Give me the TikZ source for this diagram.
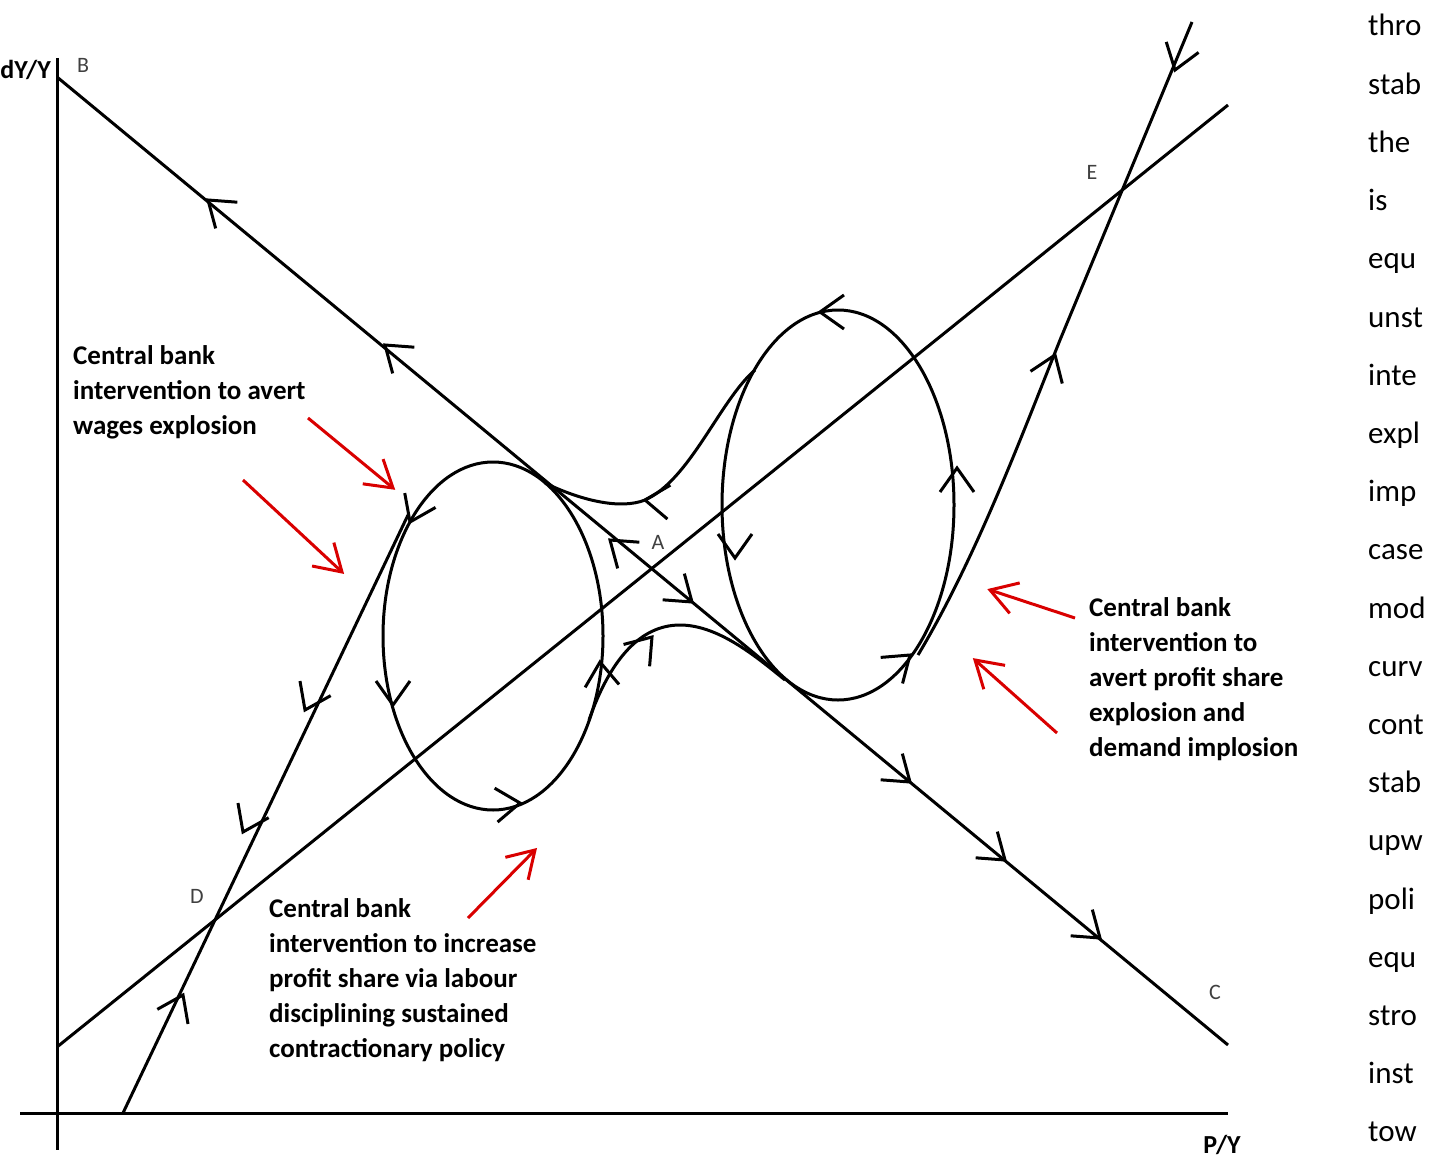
\documentclass[tikz,border=0pt]{standalone}
\usepackage{fontspec}
\setmainfont{Carlito}
\begin{document}
\begin{tikzpicture}[x=1pt,y=-1pt,
  ln/.style={line width=3pt,black},
  rd/.style={line width=3pt,red!85!black},
  lbl/.style={font=\fontsize{27}{35}\selectfont\bfseries,align=left,anchor=north west,inner sep=0pt},
  pt/.style={font=\fontsize{22}{22}\selectfont,text=black!75,inner sep=0pt},
  arrh/.pic={\draw[line width=3pt] (-24,-17)--(0,0)--(-24,17);},
  redh/.pic={\draw[line width=3pt,red!85!black] (-26,-16)--(0,0)--(-26,16);}]
\useasboundingbox (0,0) rectangle (1434,1169);
% axes
\draw[ln] (57,58) -- (57,1150);
\draw[ln] (20,1113) -- (1228,1113);
% lines
\coordinate (B) at (57,77); \coordinate (C) at (1228,1045);
\coordinate (D0) at (57,1047); \coordinate (E0) at (1228,105);
\draw[ln] (B) -- (C);
\draw[ln] (D0) -- (E0);
% ellipses
\draw[ln] (493,636) ellipse [x radius=110, y radius=174];
\draw[ln] (838,505) ellipse [x radius=116, y radius=195];
% left steep line
\coordinate (S0) at (123,1113); \coordinate (S1) at (408,515);
\draw[ln] (S0) -- (S1);
% right curve
\draw[ln] (918,655) .. controls (975,560) and (1020,440) .. (1060,340) -- (1192,22);
% connectors
\draw[ln] (545,483) .. controls (580,500) and (620,510) .. (645,500) .. controls (690,480) and (720,400) .. (755,370);
\draw[ln] (589,720) .. controls (610,660) and (640,625) .. (680,625) .. controls (720,625) and (760,660) .. (785,680);
% arrowheads
\foreach \x/\y/\a in {208/200/219.6, 385/345/219.6, 610/540/219.6, 692/602/39.6, 910/782/39.6, 1005/860/39.6, 1100/938/39.6,
  183/995/-64.5, 243/832/115.5, 305/710/115.5,
  1055/355/-69, 1175/70/108,
  410/522/115, 393/705/90, 520/803/-5, 600/662/-95,
  820/312/180, 735/558/90, 957/468/-90, 910/655/-40,
  645/500/185, 652/637/-50}
  \pic[rotate=-\a] at (\x,\y) {arrh};
% red arrows
\foreach \ax/\ay/\bx/\by in {308/418/393/488, 243/480/342/572, 468/918/535/850, 1075/618/990/590, 1057/733/975/660}{
  \draw[rd] (\ax,\ay) -- (\bx,\by);
  \pgfmathsetmacro{\ang}{-atan2(\by-\ay,\bx-\ax)}
  \pic[rotate=\ang] at (\bx,\by) {redh};
}
% point labels
\node[pt] (lB) at (83,65) {B};
\node[pt] (lA) at (658,542) {A};
\node[pt] (lE) at (1092,172) {E};
\node[pt] (lD) at (197,896) {D};
\node[pt] (lC) at (1215,992) {C};
\node[font=\fontsize{26}{26}\selectfont\bfseries,anchor=east,inner sep=0pt] (ly) at (51,70) {dY/Y};
\node[font=\fontsize{26}{26}\selectfont\bfseries,inner sep=0pt] (lx) at (1222,1145) {P/Y};
% text labels
\node[lbl] (t1) at (73,345) {Central bank\\intervention to avert\\wages explosion};
\node[lbl] (t2) at (1089,597) {Central bank\\intervention to\\avert profit share\\explosion and\\demand implosion};
\node[lbl] (t3) at (269,898) {Central bank\\intervention to increase\\profit share via labour\\disciplining sustained\\contractionary policy};
% right column
\begin{scope}
\clip (1340,0) rectangle (1434,1169);
\foreach \w [count=\i from 0] in {thro,stab,the,is,equ,unst,inte,expl,imp,case,mod,curv,cont,stab,upw,poli,equ,stro,inst,tow}
  \node[font=\fontsize{31}{31}\selectfont,anchor=base west,inner sep=0pt] at (1368,{36+58.2*\i}) {\w};
\end{scope}
\end{tikzpicture}
\end{document}
